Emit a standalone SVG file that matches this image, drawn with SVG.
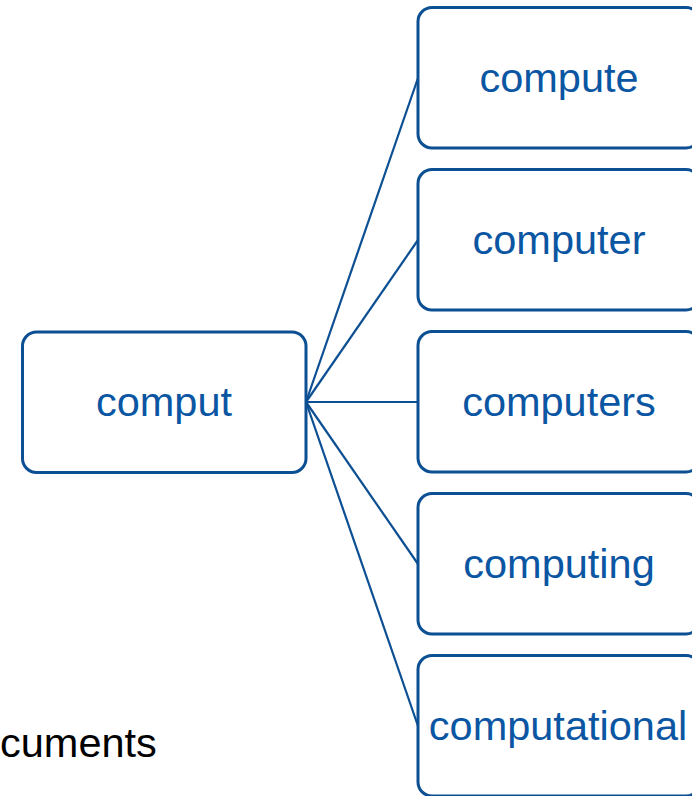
<svg xmlns="http://www.w3.org/2000/svg" width="692" height="796" viewBox="0 0 692 796">
<style>
.box{fill:#ffffff;stroke:#0c4f92;stroke-width:3;}
.lbl{font-family:"Liberation Sans",Arial,sans-serif;font-size:41.5px;fill:#0b56a3;text-anchor:middle;}
.conn{stroke:#0c4f92;stroke-width:2.2;fill:none;}
.plain{font-family:"Liberation Sans",Arial,sans-serif;font-size:41.5px;fill:#000000;}
</style>
<rect width="692" height="796" fill="#ffffff"/>
<g id="connectors">
<line class="conn" x1="306" y1="402" x2="418" y2="78"/>
<line class="conn" x1="306" y1="402" x2="418" y2="240"/>
<line class="conn" x1="306" y1="402" x2="418" y2="402"/>
<line class="conn" x1="306" y1="402" x2="418" y2="564"/>
<line class="conn" x1="306" y1="402" x2="418" y2="726"/>
</g>
<g id="node-comput">
<rect class="box" x="22.5" y="332" width="283.5" height="140.5" rx="14"/>
<text class="lbl" x="164" y="416">comput</text>
</g>
<g id="node-compute">
<rect class="box" x="418" y="7.5" width="282" height="140.5" rx="14"/>
<text class="lbl" x="559" y="92">compute</text>
</g>
<g id="node-computer">
<rect class="box" x="418" y="169.5" width="282" height="140.5" rx="14"/>
<text class="lbl" x="559" y="254">computer</text>
</g>
<g id="node-computers">
<rect class="box" x="418" y="331.5" width="282" height="140.5" rx="14"/>
<text class="lbl" x="559" y="416">computers</text>
</g>
<g id="node-computing">
<rect class="box" x="418" y="493.5" width="282" height="140.5" rx="14"/>
<text class="lbl" x="559" y="578">computing</text>
</g>
<g id="node-computational">
<rect class="box" x="418" y="655.5" width="282" height="140.5" rx="14"/>
<text class="lbl" x="558" y="740">computational</text>
</g>
<text class="plain" x="0" y="757">cuments</text>
</svg>
